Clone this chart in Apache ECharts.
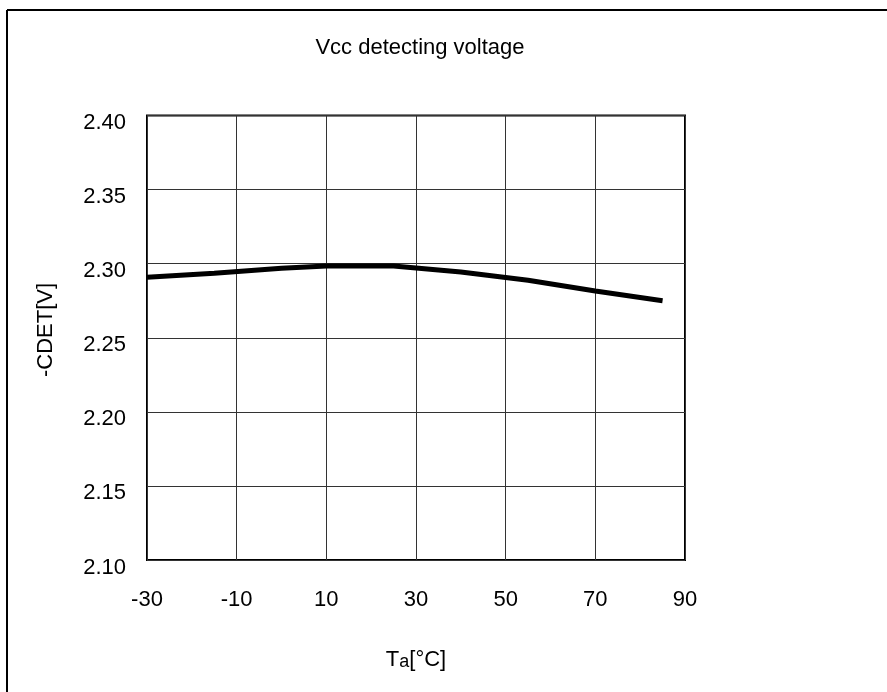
<!DOCTYPE html>
<html>
<head>
<meta charset="utf-8">
<script src="https://cdn.jsdelivr.net/npm/echarts@6/dist/echarts.min.js"></script>
<style>
html,body{margin:0;padding:0;background:#fff;}
#c{width:887px;height:692px;}
</style>
</head>
<body>
<div id="c"></div>
<script>
var titleText = 'Vcc detecting voltage';
var xName = 'Ta[°C]';
var yName = '-CDET[V]';
var xTicks = [-30, -10, 10, 30, 50, 70, 90];
var yTicks = [2.10, 2.15, 2.20, 2.25, 2.30, 2.35, 2.40];
var temps = [-30, -15, 0, 10, 25, 40, 55, 70, 85];
var volts = [2.2908, 2.2935, 2.2969, 2.2984, 2.2984, 2.2944, 2.2888, 2.2815, 2.2750];

var FONT = '"Liberation Sans", Arial, sans-serif';
var chart = echarts.init(document.getElementById('c'), null, {renderer: 'canvas'});
chart.setOption({
  backgroundColor: '#fff',
  animation: false,
  grid: {left: 147, right: 202, top: 115.5, bottom: 132, show: true, borderColor: '#000', borderWidth: 2, backgroundColor: 'transparent'},
  xAxis: {
    type: 'value', min: xTicks[0], max: xTicks[xTicks.length - 1], interval: 20,
    axisLine: {show: false}, axisTick: {show: false},
    splitLine: {show: true, lineStyle: {color: '#333', width: 1}},
    axisLabel: {margin: 29, color: '#000', fontSize: 22, fontFamily: FONT}
  },
  yAxis: {
    type: 'value', min: yTicks[0], max: yTicks[yTicks.length - 1], interval: 0.05,
    axisLine: {show: false}, axisTick: {show: false},
    splitLine: {show: true, lineStyle: {color: '#333', width: 1}},
    axisLabel: {margin: 21, color: '#000', fontSize: 22, fontFamily: FONT,
      formatter: function (v) { return '{v|' + v.toFixed(2) + '}'; },
      rich: {v: {fontSize: 22, fontFamily: FONT, color: '#000', padding: [15, 0, 0, 0]}}}
  },
  series: [{
    type: 'line', data: temps.map(function (t, i) { return [t, volts[i]]; }),
    showSymbol: false, symbol: 'none', lineStyle: {color: '#000', width: 5}, z: 5
  }],
  graphic: [
    {type: 'line', shape: {x1: 7, y1: 10, x2: 887, y2: 10}, style: {stroke: '#000', lineWidth: 2}},
    {type: 'line', shape: {x1: 7, y1: 10, x2: 7, y2: 692}, style: {stroke: '#000', lineWidth: 2}},
    {type: 'text', x: 420, y: 48, style: {text: titleText, font: '22px ' + FONT, fill: '#000', align: 'center', verticalAlign: 'middle'}},
    {type: 'text', x: 416, y: 660, style: {
      text: '{a|T}{b|a}{a|[°C]}', fill: '#000', align: 'center', verticalAlign: 'middle',
      rich: {a: {fontSize: 22, fontFamily: FONT, fill: '#000'}, b: {fontSize: 18, fontFamily: FONT, fill: '#000', verticalAlign: 'bottom'}}
    }},
    {type: 'text', x: 46, y: 330, rotation: Math.PI / 2, style: {text: yName, font: '22px ' + FONT, fill: '#000', align: 'center', verticalAlign: 'middle'}}
  ]
});
</script>
</body>
</html>
